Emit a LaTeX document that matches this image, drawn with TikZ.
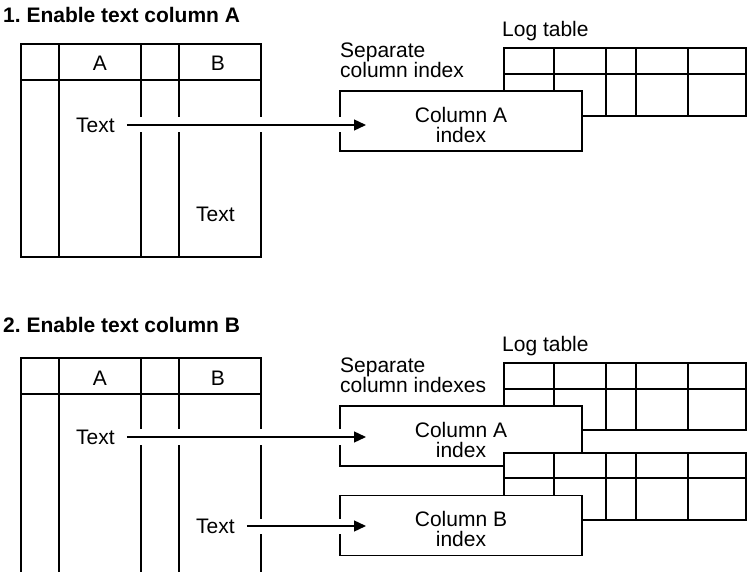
\documentclass[tikz,border=0pt]{standalone}
\usepackage{fontspec}
\setmainfont{Liberation Sans}
\usetikzlibrary{arrows.meta,positioning}

\tikzset{
  tabline/.style={line width=1.3pt},
  idxbox/.style={draw, fill=white, line width=1.3pt, minimum width=242pt, minimum height=60pt, inner sep=0pt},
  lbl/.style={font=\fontsize{21}{20}\selectfont, inner sep=0pt},
  ttl/.style={font=\fontsize{21}{21}\selectfont\bfseries, inner sep=0pt, anchor=base west},
  feed/.style={line width=1.3pt, -{Triangle[length=12pt,width=11pt]}, shorten <=12pt},
  gap/.style={white, line width=15pt, shorten <=12pt}
}

\begin{document}
\begin{tikzpicture}[x=1pt,y=-1pt]
    \useasboundingbox (0,0) rectangle (748,572);

    % 1. Enable text column A
    \node[ttl] (ttl1) at (3,23) {1.\ Enable text column A};

    % base table
    \draw[tabline] (21,44) rectangle (261,257);
    \draw[tabline] (21,80) -- (261,80);
    \foreach \x in {59,141,179} \draw[tabline] (\x,44) -- (\x,257);
    \node[lbl] (hA1) at (100,63) {A};
    \node[lbl] (hB1) at (218,63) {B};
    \node[lbl, anchor=west] (tA1) at (76,125) {Text};
    \node[lbl, anchor=west] (tB1) at (196,214) {Text};

    % log table
    \node[lbl, anchor=base west] (log1) at (502,37) {Log table};
    \draw[tabline, fill=white] (504,48) rectangle (746,116);
    \draw[tabline] (504,74) -- (746,74);
    \foreach \x in {554,606,636,688} \draw[tabline] (\x,48) -- (\x,116);

    % column index
    \node[lbl, anchor=north west, align=left] (sep1) at (340,42.7) {Separate\\column index};
    \node[idxbox] (idxA1) at (461,121) {};
    \node[lbl, align=center, below=16.7pt of idxA1.north] (nA1) {Column A\\index};

    \coordinate (hitA1) at (366,125);
    \draw[gap] (tA1) -- (hitA1);
    \draw[feed] (tA1) -- (hitA1);

    % 2. Enable text column B
    \node[ttl] (ttl2) at (3,333) {2.\ Enable text column B};

    % base table
    \draw[tabline] (21,572) -- (21,358) -- (261,358) -- (261,572);
    \draw[tabline] (21,394) -- (261,394);
    \foreach \x in {59,141,179} \draw[tabline] (\x,358) -- (\x,572);
    \node[lbl] (hA2) at (100,378) {A};
    \node[lbl] (hB2) at (218,378) {B};
    \node[lbl, anchor=west] (tA2) at (76,437) {Text};
    \node[lbl, anchor=west] (tB2) at (196,526) {Text};

    % log tables
    \node[lbl, anchor=base west] (log2) at (502,352) {Log table};
    \draw[tabline, fill=white] (504,363) rectangle (746,430);
    \draw[tabline] (504,389) -- (746,389);
    \foreach \x in {554,606,636,688} \draw[tabline] (\x,363) -- (\x,430);

    % column indexes
    \node[lbl, anchor=north west, align=left] (sep2) at (340,357.7) {Separate\\column indexes};
    \node[idxbox] (idxA2) at (461,436) {};
    \node[lbl, align=center, below=16.7pt of idxA2.north] (nA2) {Column A\\index};

    \draw[tabline, fill=white] (504,453) rectangle (746,520);
    \draw[tabline] (504,478) -- (746,478);
    \foreach \x in {554,606,636,688} \draw[tabline] (\x,453) -- (\x,520);

    \node[idxbox] (idxB2) at (461,525.5) {};
    \node[lbl, align=center, below=16.7pt of idxB2.north] (nB2) {Column B\\index};

    \coordinate (hitA2) at (366,437);
    \coordinate (hitB2) at (366,526);
    \draw[gap] (tA2) -- (hitA2);
    \draw[feed] (tA2) -- (hitA2);
    \draw[gap] (tB2) -- (hitB2);
    \draw[feed] (tB2) -- (hitB2);

\end{tikzpicture}
\end{document}
